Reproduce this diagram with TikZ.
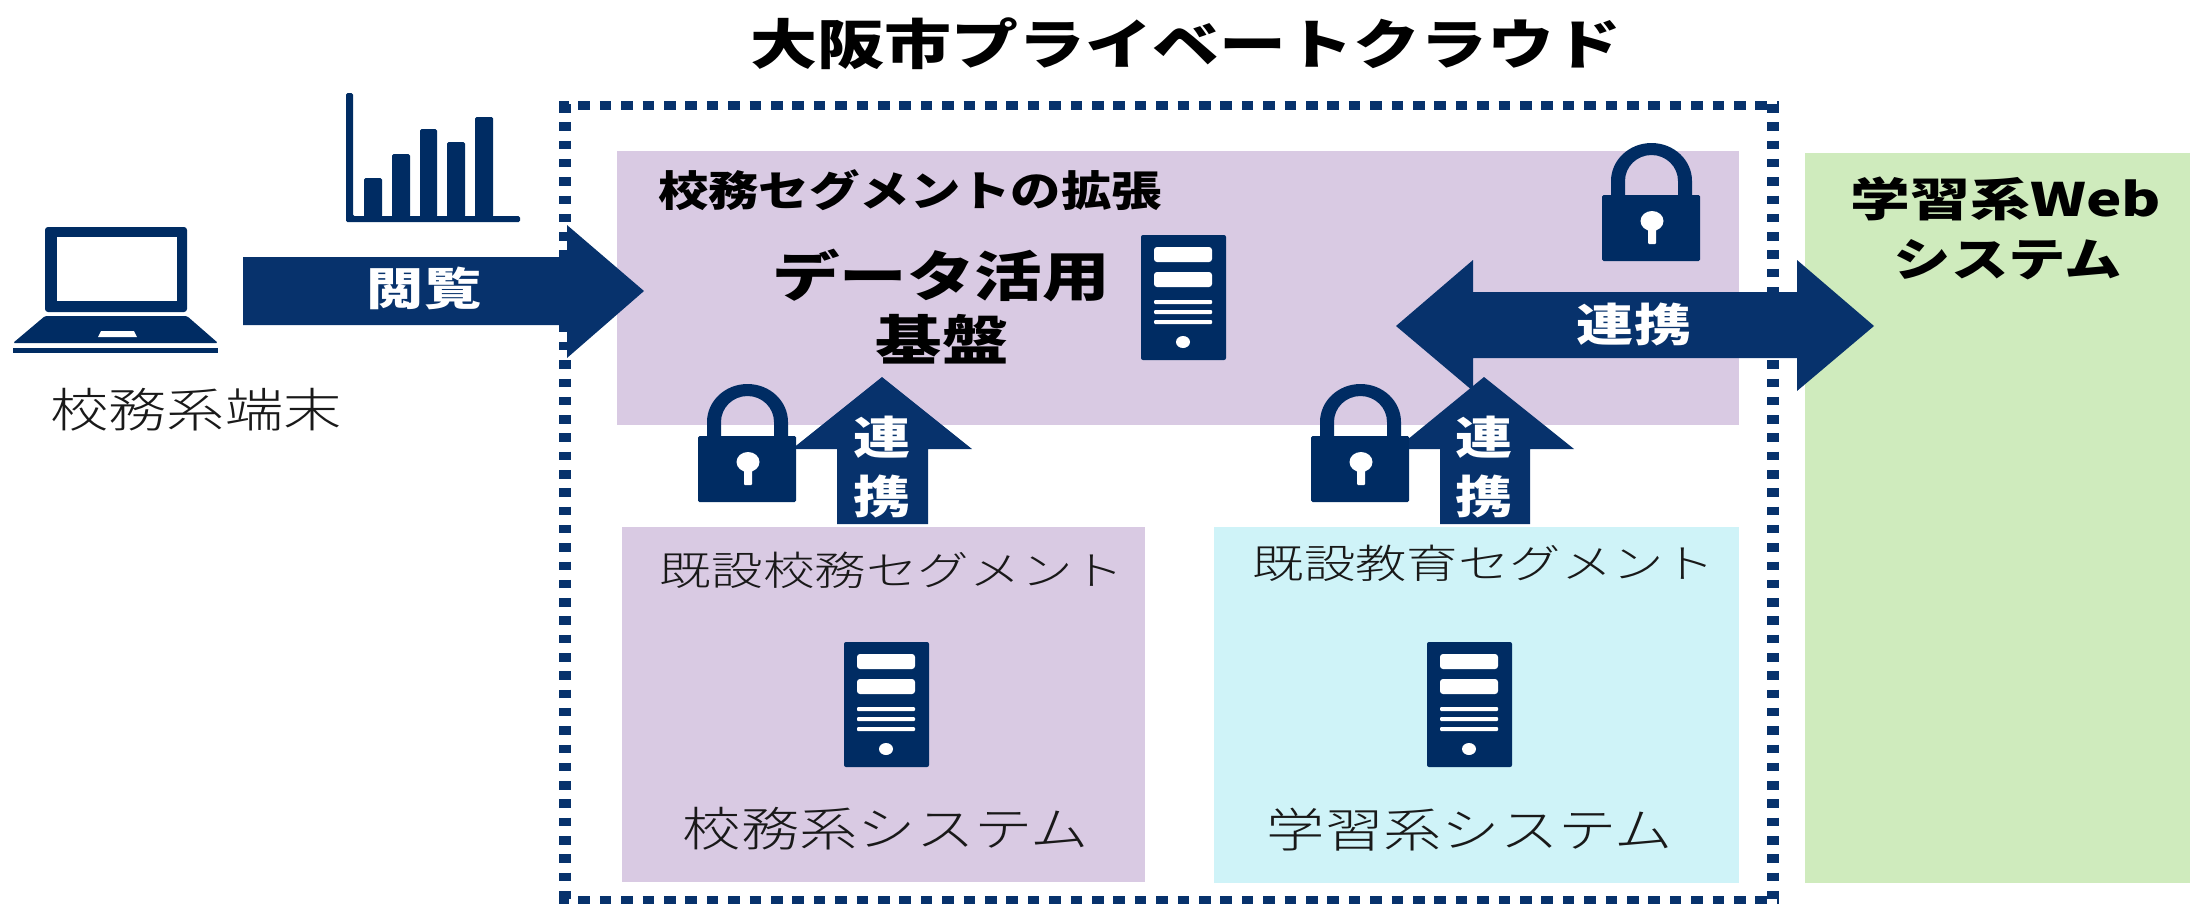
\documentclass[tikz,border=0pt]{standalone}
\usepackage{fontspec}
\setmainfont{Noto Sans CJK JP}
\newfontfamily\jpl{Noto Sans CJK JP Light}
\newcommand{\stx}[2]{\scalebox{#1}[1]{#2}}
\definecolor{navy}{HTML}{07326C}
\definecolor{icon}{HTML}{002C63}
\definecolor{lilac}{HTML}{D9CAE3}
\definecolor{skyb}{HTML}{CFF3F8}
\definecolor{leaf}{HTML}{CFEBBD}
\tikzset{
  x=1pt,y=-1pt,
  panel/.style={fill=#1,draw=none},
  hdot/.style={draw=navy,line width=9pt,dash pattern=on 11.5pt off 9.9pt,dash phase=2pt},
  vdot/.style={draw=navy,line width=12pt,dash pattern=on 8.5pt off 9.8pt},
  blockarrow/.style={fill=navy,draw=none},
  thin lab/.style={inner sep=0pt,text=black!90,font=\jpl},
  bold lab/.style={inner sep=0pt,text=black,font=\bfseries},
  white lab/.style={inner sep=0pt,text=white,font=\bfseries},
  lockicon/.pic={
    \fill[icon,rounded corners=1.5pt] (0,0) rectangle (98,66);
    \fill[icon] (9,1)--(9,-14) arc[start angle=180,end angle=360,x radius=40.5,y radius=38]
      --(90,1)--(76,1)--(76,-14) arc[start angle=360,end angle=180,x radius=26.5,y radius=26]--(23,1)--cycle;
    \fill[white] (50,26) ellipse[x radius=11.5,y radius=10];
    \fill[white,rounded corners=1pt] (46,28) rectangle (54,49);
  },
  servericon/.pic={
    \fill[icon,rounded corners=2pt] (0,0) rectangle (85,125);
    \fill[white,rounded corners=3pt] (13,12) rectangle (71,27);
    \fill[white,rounded corners=3pt] (13,37) rectangle (71,52);
    \fill[white,rounded corners=1pt] (13,65) rectangle (71,69);
    \fill[white,rounded corners=1pt] (13,75) rectangle (71,79);
    \fill[white,rounded corners=1pt] (13,85) rectangle (71,89);
    \fill[white] (42,107) ellipse[x radius=7,y radius=6];
  },
}
\begin{document}
\begin{tikzpicture}
\useasboundingbox (0,0) rectangle (2190,903);
% panels
\path[panel=lilac] (617,151) rectangle (1739,425);
\path[panel=lilac] (622,527) rectangle (1145,882);
\path[panel=skyb] (1214,527) rectangle (1739,883);
\path[panel=leaf] (1805,153) rectangle (2190,883);
% dotted cloud boundary
\coordinate (cTL) at (559,105);
\coordinate (cTR) at (1779,105);
\coordinate (cBL) at (559,900);
\coordinate (cBR) at (1779,900);
\draw[hdot] (cTL)--(cTR);
\draw[hdot] (cBL)--(cBR);
\draw[vdot] (565,104)--(565,903);
\draw[vdot] (1773,104)--(1773,903);
% chart
\fill[icon,rounded corners=1.5pt] (346,93)--(353,93)--(353,216)--(520,216)--(520,222)--(346,222)--cycle;
\foreach \a/\b/\t in {364/382/178,392/410/154,420/437/129,447/465/142,475/493/117}
  \fill[icon,rounded corners=1.5pt] (\a,\t) rectangle (\b,217);
% laptop
\fill[icon,rounded corners=3pt] (45,227) rectangle (187,312);
\fill[white] (57,237) rectangle (177,301);
\fill[icon,rounded corners=1.5pt] (45,316)--(187,316)--(218,343)--(13,343)--cycle;
\fill[white] (98,337)--(137,337)--(134,331)--(101,331)--cycle;
\fill[icon] (13,348) rectangle (218,353);
% arrows
\fill[blockarrow] (243,257)--(567,257)--(567,225)--(644,291)--(567,358)--(567,325)--(243,325)--cycle;
\fill[blockarrow] (1396,326)--(1473,260)--(1473,292)--(1797,292)--(1797,260)--(1874,326)--(1797,391)--(1797,358)--(1473,358)--(1473,391)--cycle;
\fill[blockarrow] (1484,377)--(1574,449)--(1530,449)--(1530,524)--(1440,524)--(1440,449)--(1396,449)--cycle;
\fill[blockarrow] (882,377)--(972,449)--(928,449)--(928,524)--(837,524)--(837,449)--(792,449)--cycle;
% locks
\pic at (1602,195) {lockicon};
\pic at (1311,436) {lockicon};
\pic at (698,436) {lockicon};
% servers
\pic at (1141,235) {servericon};
\pic at (844,642) {servericon};
\pic at (1427,642) {servericon};
% text
\node[bold lab] (title) at (1186,44) {\fontsize{54}{60}\selectfont\stx{1.24}{大阪市プライベートクラウド}};
\node[thin lab] (term) at (196,410) {\fontsize{47}{52}\selectfont\stx{1.24}{校務系端末}};
\node[white lab] (view) at (424,288) {\fontsize{45}{50}\selectfont\stx{1.27}{閲覧}};
\node[bold lab] (ext) at (910,190) {\fontsize{42}{48}\selectfont\stx{1.2}{校務セグメントの拡張}};
\node[bold lab] (dp1) at (941,276) {\fontsize{54}{60}\selectfont\stx{1.25}{データ活用}};
\node[bold lab] (dp2) at (942,339) {\fontsize{54}{60}\selectfont\stx{1.23}{基盤}};
\node[white lab] (l1) at (1634,324) {\fontsize{45}{50}\selectfont\stx{1.27}{連携}};
\node[white lab] (l2a) at (882,437) {\fontsize{45}{50}\selectfont\stx{1.27}{連}};
\node[white lab] (l2b) at (882,496) {\fontsize{45}{50}\selectfont\stx{1.27}{携}};
\node[white lab] (l3a) at (1484,437) {\fontsize{45}{50}\selectfont\stx{1.27}{連}};
\node[white lab] (l3b) at (1484,496) {\fontsize{45}{50}\selectfont\stx{1.27}{携}};
\node[thin lab] (seg1) at (892,570) {\fontsize{40}{46}\selectfont\stx{1.29}{既設校務セグメント}};
\node[thin lab] (sys1) at (886,829) {\fontsize{47}{52}\selectfont\stx{1.24}{校務系システム}};
\node[thin lab] (seg2) at (1484,563) {\fontsize{40}{46}\selectfont\stx{1.285}{既設教育セグメント}};
\node[thin lab] (sys2) at (1470,830) {\fontsize{47}{52}\selectfont\stx{1.24}{学習系システム}};
\node[bold lab] (web1) at (2006,199) {\fontsize{46}{50}\selectfont\stx{1.30}{学習系Web}};
\node[bold lab] (web2) at (2008,260) {\fontsize{46}{50}\selectfont\stx{1.25}{システム}};
\end{tikzpicture}
\end{document}
